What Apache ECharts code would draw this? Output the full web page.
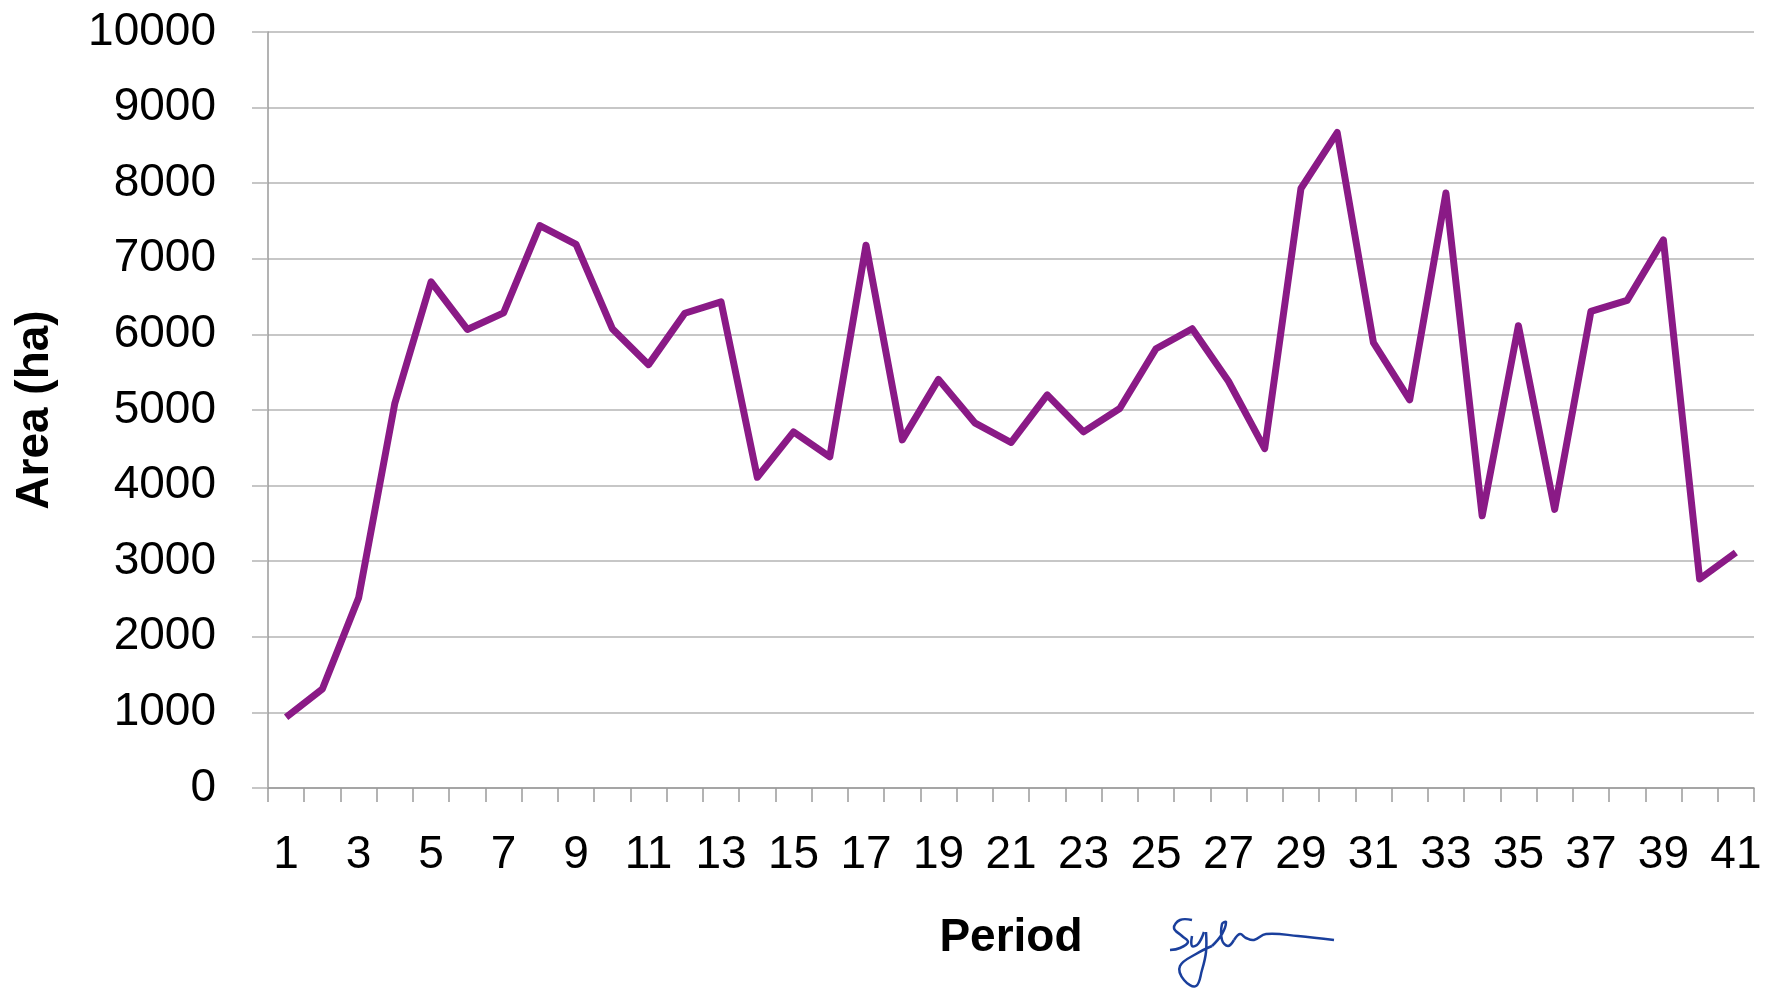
<!DOCTYPE html>
<html>
<head>
<meta charset="utf-8">
<script src="https://cdn.jsdelivr.net/npm/echarts@6/dist/echarts.min.js"></script>
<style>
  html, body { margin: 0; padding: 0; background: #fff; }
  #chart { width: 1780px; height: 991px; }
</style>
</head>
<body>
<div id="chart"></div>
<script>
// periods 1..41
const periods = []
for (let i = 1; i <= 41; i++) periods.push(String(i))

// area (ha) per period
const areaValues = [
  935, 1310, 2515, 5090, 6695, 6065, 6285, 7440, 7190, 6075,
  5600, 6280, 6430, 4110, 4710, 4380, 7180, 4605, 5405, 4830,
  4570, 5200, 4710, 5020, 5810, 6075, 5380, 4490, 7930, 8670,
  5890, 5135, 7870, 3600, 6115, 3685, 6305, 6450, 7250, 2765,
  3115
]

const yMin = 0
const yMax = 10000
const yStep = 1000

const font = "'Liberation Sans', Arial, sans-serif"
const gridGray = '#b4b4b4'

// signature strokes (relative to its own origin), just decoration
const signStrokes = [
  [[24, 2], [12, 2], [6, 10], [14, 18], [20, 24], [12, 30], [2, 32]],
  [[24, 18], [24, 28], [30, 26], [36, 14]],
  [[38, 14], [38, 34], [34, 52], [28, 68], [16, 62], [12, 48], [28, 36], [44, 28]],
  [[44, 28], [54, 16], [58, 4], [54, 6], [54, 22], [60, 28], [66, 22]],
  [[66, 22], [72, 16], [78, 20], [86, 22], [98, 16], [130, 18], [166, 22]]
]

const chart = echarts.init(document.getElementById('chart'))

chart.setOption({
  animation: false,
  backgroundColor: '#fff',
  grid: { left: 268, right: 26, top: 32, bottom: 203, containLabel: false },
  xAxis: {
    type: 'category',
    data: periods,
    boundaryGap: true,
    name: 'Period',
    nameLocation: 'middle',
    nameGap: 127,
    nameTextStyle: { fontFamily: font, fontSize: 46, fontWeight: 'bold', color: '#000' },
    axisLine: { lineStyle: { color: '#9a9a9a', width: 1.5 } },
    axisTick: { show: true, interval: 0, length: 14, lineStyle: { color: '#9a9a9a', width: 1.5 } },
    axisLabel: { interval: 1, margin: 44, fontFamily: font, fontSize: 46, color: '#000' },
    splitLine: { show: false }
  },
  yAxis: {
    type: 'value',
    min: yMin,
    max: yMax,
    interval: yStep,
    name: 'Area (ha)',
    nameLocation: 'middle',
    nameGap: 210,
    nameTextStyle: { fontFamily: font, fontSize: 46, fontWeight: 'bold', color: '#000' },
    axisLine: { show: true, lineStyle: { color: '#9a9a9a', width: 1.5 } },
    axisTick: { show: true, length: 16, lineStyle: { color: gridGray, width: 1.5 } },
    axisLabel: { margin: 52, fontFamily: font, fontSize: 46, color: '#000', formatter: v => String(v) },
    splitLine: { show: true, lineStyle: { color: gridGray, width: 1.5 } }
  },
  series: [{
    type: 'line',
    data: areaValues,
    showSymbol: false,
    lineStyle: { color: '#8a1a86', width: 7, join: 'round' },
    z: 5
  }],
  graphic: [{
    type: 'group',
    x: 1168,
    y: 918,
    children: signStrokes.map(pts => ({
      type: 'polyline',
      shape: { points: pts, smooth: 0.4 },
      style: { fill: null, stroke: '#1a3f9c', lineWidth: 2.5 }
    }))
  }]
})
</script>
</body>
</html>
